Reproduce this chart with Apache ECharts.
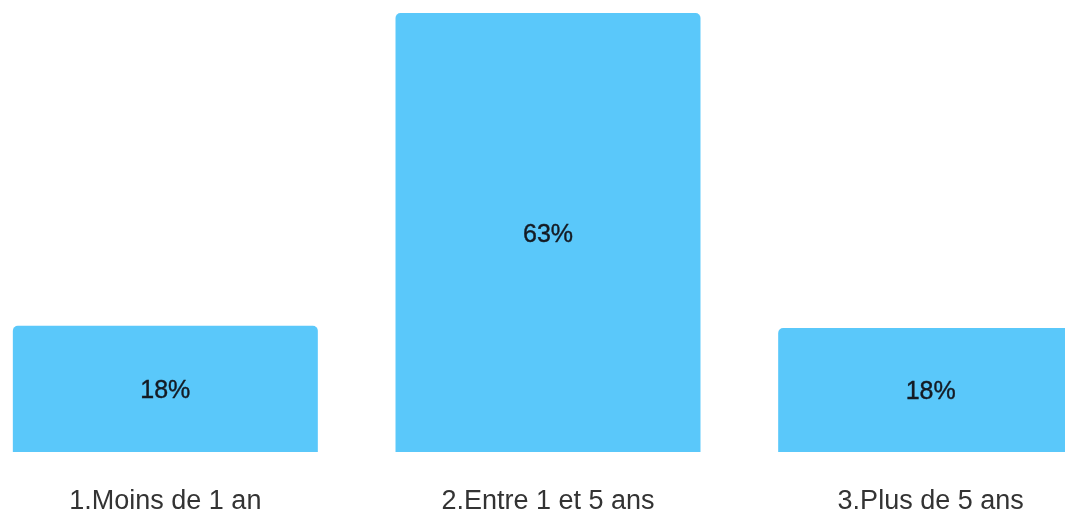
<!DOCTYPE html>
<html>
<head>
<meta charset="utf-8">
<script src="https://cdn.jsdelivr.net/npm/echarts@6/dist/echarts.min.js"></script>
<style>
html,body{margin:0;padding:0;background:#fff;overflow:hidden;width:1065px;height:515px;}
#c{width:1147.5px;height:515px;margin-left:-25.75px;}
</style>
</head>
<body>
<div id="c"></div>
<script>
const categories = ['1.Moins de 1 an', '2.Entre 1 et 5 ans', '3.Plus de 5 ans'];
const values = [18.1, 63.0, 17.8];
const valueLabels = ['18%', '63%', '18%'];

const chart = echarts.init(document.getElementById('c'), null, {renderer: 'canvas'});
chart.setOption({
  animation: false,
  grid: {left: 0, right: 0, top: 13, bottom: 63, containLabel: false},
  xAxis: {
    type: 'category',
    data: categories,
    axisLine: {show: false},
    axisTick: {show: false},
    axisLabel: {
      color: '#333333',
      fontSize: 27,
      fontFamily: 'Liberation Sans, Arial, sans-serif',
      margin: 36
    }
  },
  yAxis: {
    type: 'value',
    min: 0,
    max: function (v) { return v.max; },
    show: false,
    splitLine: {show: false}
  },
  series: [{
    type: 'bar',
    data: values,
    barWidth: '79.7%',
    itemStyle: {color: '#5ac8fa', borderRadius: [5, 5, 0, 0]},
    label: {
      show: true,
      position: 'inside',
      offset: [0, 2.5],
      color: '#141a22',
      fontSize: 25,
      fontWeight: 'normal',
      fontFamily: 'Liberation Sans, Arial, sans-serif',
      textBorderColor: '#141a22',
      textBorderWidth: 0.4,
      formatter: function (p) { return valueLabels[p.dataIndex]; }
    }
  }]
});
</script>
</body>
</html>
